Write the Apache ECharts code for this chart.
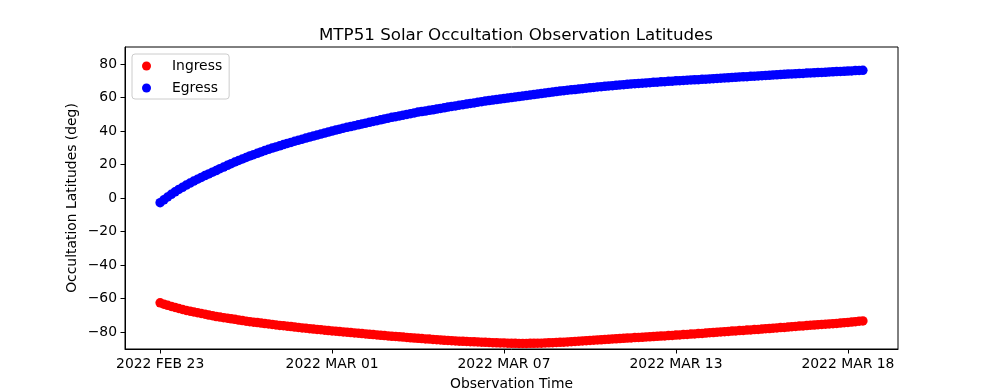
<!DOCTYPE html>
<html>
<head>
<meta charset="utf-8">
<script src="https://cdn.jsdelivr.net/npm/echarts@6/dist/echarts.min.js"></script>
<style>
html,body{margin:0;padding:0;background:#fff;}
#chart{width:998px;height:392px;}
</style>
</head>
<body>
<div id="chart"></div>
<script>
// Observation times: hours since 2022 FEB 23 00:00
const obsHours = [
0,3,6,9,12,15,18,21,24,27,
30,33,36,39,42,45,48,51,54,57,
60,63,66,69,72,75,78,81,84,87,
90,93,96,99,102,105,108,111,114,117,
120,123,126,129,132,135,138,141,144,147,
150,153,156,159,162,165,168,171,174,177,
180,183,186,189,192,195,198,201,204,207,
210,213,216,219,222,225,228,231,234,237,
240,243,246,249,252,255,258,261,264,267,
270,273,276,279,282,285,288,291,294,297,
300,303,306,309,312,315,318,321,324,327,
330,333,336,339,342,345,348,351,354,357,
360,363,366,369,372,375,378,381,384,387,
390,393,396,399,402,405,408,411,414,417,
420,423,426,429,432,435,438,441,444,447,
450,453,456,459,462,465,468,471,474,477,
480,483,486,489,492,495,498,501,504,507,
510,513,516,519,522,525,528,531,534,537,
540,543,546,549,552,555,558,561,564
];

const ingressLat = [
-62.6,-63.4,-64.1,-64.8,-65.4,-66.0,-66.6,-67.2,-67.6,-68.1,
-68.5,-69.0,-69.4,-69.9,-70.3,-70.8,-71.1,-71.5,-71.8,-72.2,
-72.5,-72.9,-73.2,-73.6,-73.9,-74.2,-74.4,-74.7,-75.0,-75.2,
-75.5,-75.8,-76.1,-76.3,-76.6,-76.8,-77.1,-77.3,-77.6,-77.8,
-78.1,-78.3,-78.5,-78.7,-79.0,-79.2,-79.4,-79.6,-79.8,-80.0,
-80.2,-80.4,-80.6,-80.8,-81.0,-81.2,-81.4,-81.6,-81.8,-82.0,
-82.2,-82.4,-82.6,-82.7,-82.9,-83.1,-83.3,-83.5,-83.7,-83.8,
-84.0,-84.2,-84.3,-84.5,-84.6,-84.8,-85.0,-85.1,-85.2,-85.4,
-85.5,-85.6,-85.7,-85.8,-85.9,-86.0,-86.1,-86.2,-86.3,-86.4,
-86.5,-86.6,-86.6,-86.7,-86.8,-86.8,-86.9,-86.9,-86.9,-86.8,
-86.8,-86.7,-86.7,-86.6,-86.5,-86.4,-86.3,-86.2,-86.1,-86.0,
-85.8,-85.7,-85.5,-85.4,-85.2,-85.1,-84.9,-84.8,-84.7,-84.5,
-84.4,-84.2,-84.1,-84.0,-83.8,-83.7,-83.6,-83.4,-83.3,-83.2,
-83.0,-82.9,-82.8,-82.6,-82.5,-82.4,-82.2,-82.1,-81.9,-81.8,
-81.6,-81.5,-81.3,-81.2,-81.0,-80.9,-80.7,-80.5,-80.4,-80.2,
-80.0,-79.9,-79.7,-79.5,-79.4,-79.2,-79.1,-78.9,-78.8,-78.6,
-78.5,-78.3,-78.1,-78.0,-77.8,-77.6,-77.4,-77.3,-77.1,-76.9,
-76.7,-76.5,-76.4,-76.2,-76.0,-75.9,-75.7,-75.5,-75.4,-75.2,
-75.1,-74.9,-74.7,-74.5,-74.3,-74.1,-73.9,-73.6,-73.4
];

const egressLat = [
-2.8,-1.1,0.6,2.2,3.7,5.1,6.4,7.7,8.9,10.1,
11.2,12.3,13.4,14.4,15.4,16.4,17.5,18.5,19.5,20.5,
21.5,22.4,23.3,24.2,25.1,25.9,26.7,27.5,28.3,29.1,
29.8,30.5,31.2,31.9,32.6,33.2,33.9,34.5,35.1,35.8,
36.4,37.0,37.6,38.2,38.8,39.4,40.0,40.6,41.1,41.7,
42.2,42.7,43.2,43.7,44.2,44.7,45.2,45.7,46.2,46.7,
47.2,47.7,48.2,48.6,49.0,49.5,49.9,50.4,50.8,51.3,
51.6,51.9,52.4,52.7,53.1,53.5,53.9,54.3,54.7,55.0,
55.4,55.7,56.1,56.5,56.8,57.2,57.5,57.9,58.2,58.5,
58.8,59.1,59.4,59.7,60.0,60.3,60.6,60.9,61.2,61.5,
61.8,62.1,62.4,62.7,63.0,63.3,63.6,63.9,64.1,64.4,
64.6,64.8,65.1,65.3,65.6,65.8,66.0,66.3,66.5,66.7,
66.9,67.1,67.3,67.5,67.7,67.9,68.1,68.3,68.4,68.6,
68.7,68.9,69.1,69.2,69.4,69.5,69.7,69.8,70.0,70.1,
70.2,70.4,70.5,70.6,70.7,70.9,71.0,71.1,71.3,71.4,
71.6,71.7,71.8,72.0,72.1,72.3,72.4,72.5,72.7,72.8,
72.9,73.1,73.2,73.3,73.5,73.6,73.7,73.9,74.0,74.1,
74.2,74.3,74.4,74.6,74.7,74.8,74.9,75.0,75.1,75.3,
75.4,75.5,75.6,75.7,75.8,75.9,76.1,76.2,76.3
];

const xTickHours = [0, 138, 276, 414, 552];
const xTickLabels = ['2022 FEB 23', '2022 MAR 01', '2022 MAR 07', '2022 MAR 13', '2022 MAR 18'];
const yTickValues = [-80, -60, -40, -20, 0, 20, 40, 60, 80];

const FONT = 'DejaVu Sans';
const chart = echarts.init(document.getElementById('chart'), null, {renderer: 'canvas'});

const pairs = (ys) => ys.map((v, i) => [obsHours[i], v]);

chart.setOption({
  animation: false,
  backgroundColor: '#ffffff',
  title: {
    text: 'MTP51 Solar Occultation Observation Latitudes',
    left: 511, top: 22, textAlign: 'center',
    textStyle: {fontFamily: FONT, fontSize: 16.7, fontWeight: 'normal', color: '#000'}
  },
  legend: {
    orient: 'vertical',
    left: 132, top: 54,
    padding: [4, 7, 3, 10],
    itemGap: 6,
    itemWidth: 9, itemHeight: 9,
    backgroundColor: 'rgba(255,255,255,0.8)',
    borderColor: '#cccccc', borderWidth: 1, borderRadius: 3,
    textStyle: {fontFamily: FONT, fontSize: 13.9, color: '#000', lineHeight: 16, padding: [0, 0, 0, 16]},
    data: [{name: 'Ingress', icon: 'circle'}, {name: 'Egress', icon: 'circle'}]
  },
  grid: {
    left: 125, top: 47, width: 773, height: 302,
    outerBoundsMode: 'none', containLabel: false,
    show: true, borderColor: '#000', borderWidth: 1, backgroundColor: 'transparent'
  },
  xAxis: {
    type: 'value', min: -28.2, max: 592.2,
    name: 'Observation Time', nameLocation: 'middle', nameGap: 28, nameMoveOverlap: false,
    nameTextStyle: {fontFamily: FONT, fontSize: 13.9, color: '#000'},
    axisLine: {show: true, onZero: false, lineStyle: {color: '#000', width: 1}},
    axisTick: {show: true, customValues: xTickHours, length: 4.5, lineStyle: {color: '#000', width: 1}},
    axisLabel: {
      customValues: xTickHours, margin: 8,
      fontFamily: FONT, fontSize: 13.9, color: '#000',
      formatter: (v) => { const i = xTickHours.indexOf(Math.round(v)); return i >= 0 ? xTickLabels[i] : ''; }
    },
    splitLine: {show: false}
  },
  yAxis: {
    type: 'value', min: -90.2, max: 90.2,
    name: 'Occultation Latitudes (deg)', nameLocation: 'middle', nameGap: 46, nameMoveOverlap: false,
    nameTextStyle: {fontFamily: FONT, fontSize: 13.9, color: '#000'},
    axisLine: {show: true, onZero: false, lineStyle: {color: '#000', width: 1}},
    axisTick: {show: true, customValues: yTickValues, length: 4.5, lineStyle: {color: '#000', width: 1}},
    axisLabel: {
      customValues: yTickValues, margin: 8,
      fontFamily: FONT, fontSize: 13.9, color: '#000',
      formatter: (v) => (v < 0 ? '\u2212' + Math.abs(v) : String(v))
    },
    splitLine: {show: false}
  },
  series: [
    {name: 'Ingress', type: 'scatter', symbol: 'circle', symbolSize: 9.5,
     itemStyle: {color: '#ff0000', opacity: 1}, data: pairs(ingressLat)},
    {name: 'Egress', type: 'scatter', symbol: 'circle', symbolSize: 9.5,
     itemStyle: {color: '#0000ff', opacity: 1}, data: pairs(egressLat)}
  ]
});
</script>
</body>
</html>
